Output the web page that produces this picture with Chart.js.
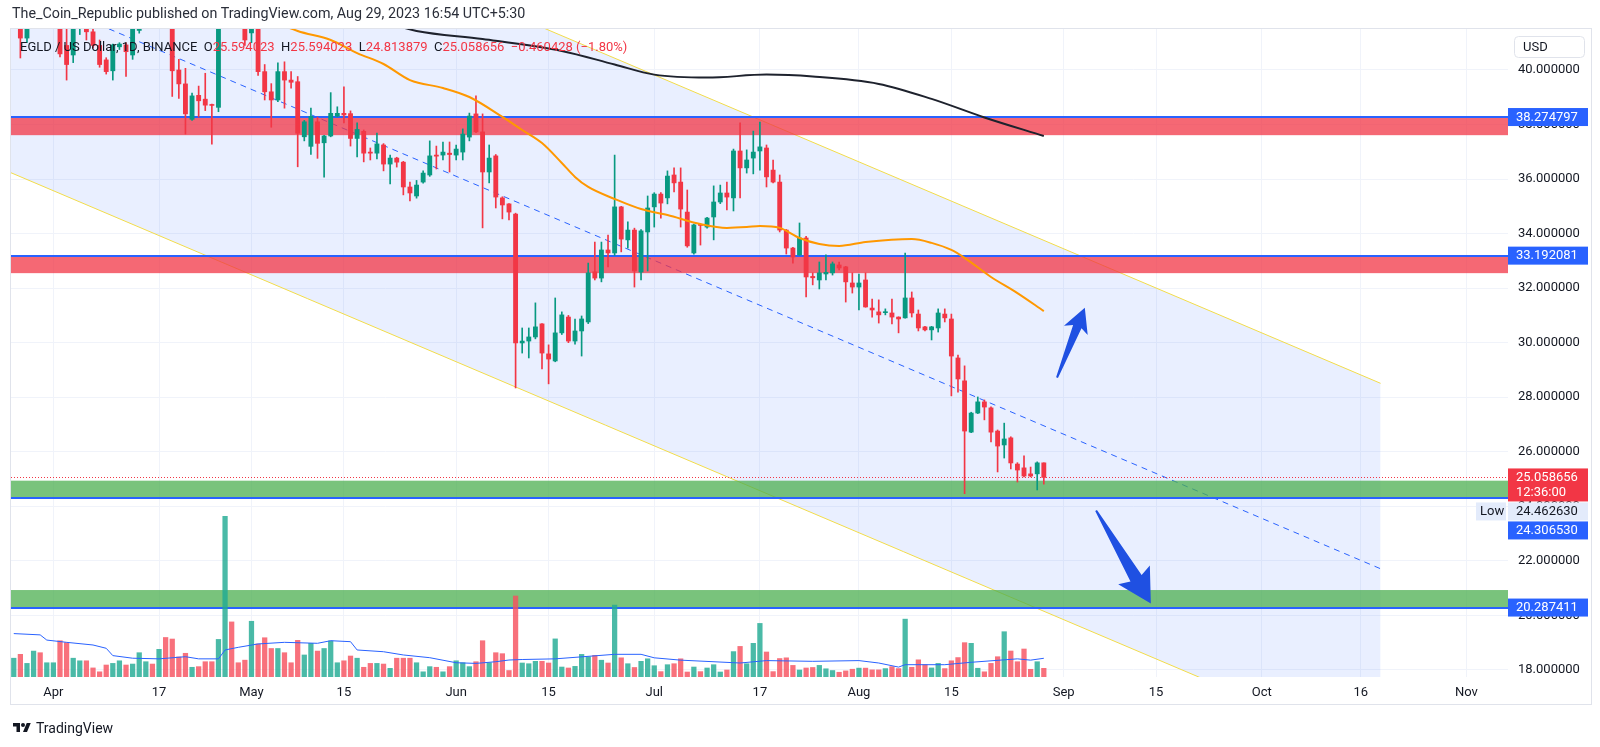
<!DOCTYPE html>
<html><head><meta charset="utf-8">
<script src="https://cdn.jsdelivr.net/npm/chart.js@4.4.0/dist/chart.umd.min.js"></script>
<style>
html,body{margin:0;padding:0;background:#fff;width:1600px;height:747px;overflow:hidden;}
#wrap{position:relative;width:1600px;height:747px;font-family:Roboto,"Liberation Sans",sans-serif;color:#131722;}
#c{position:absolute;left:0;top:0;}
.hdr{position:absolute;left:12px;top:4px;font-size:14.3px;line-height:18px;white-space:nowrap;color:#2a2e39;}
.leg{position:absolute;left:20px;top:38px;font-size:13px;line-height:18px;white-space:nowrap;color:#131722;}
.leg .r{color:#f23645}
.foot{position:absolute;left:12px;top:719px;font-size:14px;line-height:18px;white-space:nowrap;display:flex;align-items:center;gap:4px;color:#131722;}
</style></head>
<body><div id="wrap">
<canvas id="c" width="1600" height="747"></canvas>
<div class="hdr">The_Coin_Republic published on TradingView.com, Aug 29, 2023 16:54 UTC+5:30</div>
<div class="leg">EGLD / US Dollar, 1D, BINANCE&nbsp;&nbsp;O<span class="r">25.594023</span>&nbsp;&nbsp;H<span class="r">25.594023</span>&nbsp;&nbsp;L<span class="r">24.813879</span>&nbsp;&nbsp;C<span class="r">25.058656</span>&nbsp;&nbsp;<span class="r">−0.460428 (−1.80%)</span></div>
<div class="foot"><svg width="20" height="14" viewBox="0 0 36 28"><path d="M14 22H7V11H0V4h14v18zM28 22h-8l7.5-18h8L28 22z" fill="#131722"/><circle cx="20" cy="8" r="4" fill="#131722"/></svg><span>TradingView</span></div>
</div>
<script>
// ---------- DATA ----------
const startDate = '2023-03-26';   // first daily candle
const open = [
 42.0,42.5,41.17,42.1,42.8,42.3,42.9,
 43.2,40.9,40.55,41.6,41.9,41.4,40.9,40.37,39.97,40.85,
 40.92,40.55,41.45,41.9,42.9,42.4,43.0,42.3,40.0,39.49,
 38.19,39.07,38.93,38.72,38.63,41.8,42.8,42.2,41.8,41.36,
 41.5,39.94,39.2,38.9,39.94,39.63,39.57,37.55,37.2,38.1,
 37.33,37.58,38.31,38.41,38.4,37.49,37.75,36.99,36.95,37.25,
 36.55,36.77,36.62,35.71,35.38,35.89,36.15,36.88,36.88,36.95,
 36.88,36.99,37.54,38.39,37.73,36.26,36.85,35.31,35.09,34.72,
 29.99,30.06,30.21,30.69,29.59,29.33,30.36,30.94,30.06,30.43,
 30.76,32.6,32.37,33.4,33.29,34.98,33.77,34.13,32.59,34.06,
 34.98,35.45,35.31,36.15,35.89,34.79,33.29,34.34,34.24,34.61,
 35.16,35.49,35.31,37.03,36.41,36.77,37.03,37.14,36.33,35.89,
 34.13,33.47,33.22,33.84,32.43,32.3,32.52,32.56,32.85,32.78,
 32.19,32.04,32.3,31.27,31.13,31.1,31.09,30.94,30.91,31.64,
 31.05,30.58,30.47,30.54,31.05,30.87,29.44,28.6,26.72,27.42,
 27.83,27.61,26.76,26.25,26.51,25.55,25.41,25.19,25.19,25.594023];
const high = [
 42.9,42.7,42.4,43.2,43.3,43.4,43.5,
 43.3,41.5,41.9,42.3,42.1,41.6,41.1,40.45,40.95,41.0,
 41.0,41.8,42.2,43.2,43.4,43.5,43.1,42.4,40.39,40.06,
 39.15,39.41,39.88,38.75,42.3,43.5,43.2,42.6,41.9,41.8,
 41.7,40.2,39.5,40.26,40.3,39.94,39.76,38.15,38.6,38.27,
 37.6,39.17,38.65,39.38,38.5,38.06,37.8,37.14,37.69,37.3,
 36.88,36.8,36.65,35.89,35.95,36.3,37.4,37.21,37.36,37.36,
 37.25,37.84,38.42,39.05,38.39,37.25,36.9,35.35,35.1,34.75,
 30.54,30.54,31.46,30.7,29.92,31.64,31.13,31.0,30.87,30.98,
 32.92,33.69,33.69,33.95,36.88,35.0,34.43,34.2,34.15,35.38,
 35.5,35.5,36.3,36.41,36.41,35.6,34.35,34.35,34.6,35.75,
 35.78,35.89,37.1,38.06,37.07,37.76,38.09,37.25,36.7,36.15,
 34.15,33.5,34.39,33.9,32.56,32.96,33.22,32.96,32.96,32.8,
 32.56,32.52,32.56,31.6,31.57,31.24,31.6,30.95,33.29,31.86,
 31.2,30.6,30.6,31.24,31.24,31.05,29.55,29.15,27.45,28.01,
 27.9,27.65,26.8,27.05,26.55,25.6,25.85,25.44,25.63,25.594023];
const low = [
 41.7,40.44,41.0,41.9,41.8,42.0,42.6,
 40.48,39.63,40.27,41.3,41.1,40.8,40.1,39.85,39.63,40.75,
 39.76,40.39,41.35,41.7,42.1,42.2,41.8,39.03,38.96,37.65,
 38.15,38.27,38.51,37.28,38.47,41.6,41.8,41.55,40.9,41.0,
 39.8,38.9,37.9,38.84,38.6,39.33,36.45,37.4,36.9,36.76,
 36.07,37.55,38.28,38.06,37.21,36.81,36.63,36.7,36.74,36.3,
 35.82,36.44,35.42,35.2,35.3,35.85,36.1,36.37,36.7,36.26,
 36.7,36.7,37.4,37.7,34.21,35.86,34.94,34.54,34.5,28.34,
 29.62,29.44,30.14,29.04,28.49,29.3,30.3,30.0,29.95,29.51,
 30.7,32.3,32.23,32.78,33.2,33.33,33.47,32.04,32.3,32.63,
 34.24,34.57,35.09,35.53,34.24,33.5,33.25,33.58,34.2,33.77,
 35.1,34.87,34.83,35.31,36.22,36.19,36.33,35.71,35.86,34.06,
 33.25,32.92,33.2,31.68,32.12,31.97,32.3,32.48,32.67,31.49,
 31.82,31.2,31.3,30.94,30.72,31.02,30.69,30.36,30.9,30.94,
 30.43,30.43,30.1,30.39,30.76,28.05,28.19,24.46263,26.7,27.4,
 27.17,26.36,25.26,25.77,25.37,24.89,25.08,25.08,24.6,24.813879];
const close = [
 42.5,41.17,42.1,42.8,42.3,42.9,43.2,
 40.59,40.2,41.6,42.0,41.4,40.9,40.2,39.94,40.92,40.95,
 40.67,41.6,41.9,42.9,42.4,43.0,42.3,39.97,39.49,38.39,
 39.05,38.87,38.71,38.70,41.8,42.8,42.2,41.8,41.1,41.6,
 39.94,39.2,38.9,39.94,39.63,39.55,37.68,38.1,38.3,37.31,
 37.58,38.41,38.41,38.35,37.49,37.82,36.95,36.95,37.29,36.55,
 36.77,36.62,35.71,35.49,35.78,36.22,36.85,36.84,36.99,36.9,
 37.1,37.65,38.31,37.73,36.26,36.77,35.34,35.05,34.79,29.99,
 30.06,30.21,30.58,29.62,29.4,30.36,31.02,30.06,30.43,30.87,
 32.56,32.37,33.4,33.29,34.98,33.8,34.13,32.63,34.1,34.94,
 35.45,35.12,36.11,35.86,34.9,33.55,34.32,34.3,34.57,35.16,
 35.49,35.34,37.03,36.41,36.7,36.99,37.18,36.08,35.89,34.13,
 33.47,33.14,33.84,32.41,32.38,32.56,32.58,32.89,32.74,32.23,
 32.04,32.19,31.31,31.2,31.02,31.13,30.94,30.87,31.64,31.09,
 30.54,30.47,30.58,31.09,30.91,29.51,28.67,26.76,27.42,27.83,
 27.64,26.72,26.21,26.47,25.59,25.33,25.11,25.11,25.594023,25.058656];
const volume = [ // thousands EGLD (approx.)
 29,35,21,40,37.5,22,22,
 56,53,29,25,25,14,8,18.5,21,25,
 18.5,20,37.5,23.6,20,42.7,61,58.6,31,36.6,
 15,16,23.6,23.6,58,248,85,22,26,86,
 51,60.6,44,44,37.5,22,56.6,34,52,40,
 44,55.6,22,25,32.4,29,15,21,21,20,
 13.4,29,29,29,22,8,16,15,8,16,
 25,22,16,23.6,56,22,37.5,36,10,125,
 21.6,20.5,24.2,24.2,21.6,58.8,15.4,13.9,16.4,34.9,
 31.2,33.3,25.9,21.6,111,29.6,20.5,14.7,24.2,28.1,
 17.4,8.3,19,20.5,28.1,7.7,15.4,8.3,13.9,19,
 7.7,10.8,39.2,47.2,20.5,52,82.7,38.6,8.3,28.5,
 29.6,17.9,10.8,13.9,14.7,17.9,12.7,10,7.3,9.4,
 12,13.7,13.7,11,11,13,16,13,89.3,15,
 26.5,19,14,21,13,25,30,53,52,13.5,
 8,21,31.3,69.9,40.1,23.6,43.2,11.9,23.6,13.4];
// moving averages: [date, value]
const volMA = [['2023-03-26',67],['2023-03-30',65],['2023-03-31',57],['2023-04-03',53.5],['2023-04-07',49.4],['2023-04-09',44.3],['2023-04-10',33],['2023-04-13',29],['2023-04-17',28],['2023-04-21',31.3],['2023-04-23',28],['2023-04-26',28],['2023-04-27',41.7],['2023-04-29',45.8],['2023-05-02',51],['2023-05-06',53.5],['2023-05-11',52],['2023-05-13',56],['2023-05-16',54.5],['2023-05-17',41.7],['2023-05-21',39],['2023-05-24',34],['2023-05-28',29.8],['2023-06-01',22],['2023-06-04',21],['2023-06-07',23.6],['2023-06-09',26.2],['2023-06-11',27],['2023-06-16',28],['2023-06-25',35],['2023-06-29',35],['2023-07-01',29.6],['2023-07-05',26],['2023-07-14',21.6],['2023-07-18',25.3],['2023-07-25',24.2],['2023-08-01',25.3],['2023-08-04',21.6],['2023-08-07',15.3],['2023-08-08',19],['2023-08-14',19],['2023-08-18',22.7],['2023-08-25',28],['2023-08-27',26],['2023-08-29',28.9]];
const maOrange = [['2023-05-01',42.13],['2023-05-08',41.43],['2023-05-13',41.10],['2023-05-17',40.62],['2023-05-21',40.22],['2023-05-25',39.63],['2023-05-30',39.34],['2023-06-03',39.01],['2023-06-08',38.28],['2023-06-11',37.80],['2023-06-14',37.32],['2023-06-17',36.59],['2023-06-19',36.08],['2023-06-21',35.71],['2023-06-25',35.27],['2023-06-29',34.90],['2023-07-03',34.68],['2023-07-08',34.35],['2023-07-12',34.21],['2023-07-15',34.24],['2023-07-17',34.28],['2023-07-20',34.21],['2023-07-23',33.84],['2023-07-26',33.62],['2023-07-29',33.55],['2023-08-02',33.69],['2023-08-09',33.80],['2023-08-12',33.66],['2023-08-15',33.40],['2023-08-17',33.11],['2023-08-21',32.41],['2023-08-25',31.82],['2023-08-29',31.16]];
const maBlack = [['2023-05-22',41.7],['2023-05-26',41.43],['2023-06-05',41.14],['2023-06-17',40.70],['2023-06-25',40.2],['2023-07-01',39.83],['2023-07-09',39.72],['2023-07-18',39.83],['2023-07-25',39.76],['2023-08-04',39.49],['2023-08-12',38.94],['2023-08-20',38.26],['2023-08-29',37.58]];
// drawings
const channelUpper = [['2023-03-22',50.20],['2023-10-19',28.51]];
const channelLower = [['2023-03-22',36.60],['2023-10-19',14.91]];
const channelMid   = [['2023-03-22',43.40],['2023-10-19',21.71]];
const levelLines = [38.274797, 33.192081, 24.306530, 20.287411];
const redZones = [[37.61, 38.274797], [32.55, 33.192081]];
const greenZones = [[24.306530, 24.94], [20.287411, 20.93]];
const lastPrice = 25.058656, lastCountdown = '12:36:00', lowPrice = 24.462630;
const arrows = [[['2023-08-31T00:00',28.72],['2023-09-04T05:00',31.28]], [['2023-09-05T22:00',23.85],['2023-09-14T05:00',20.44]]];
// axes
const xTickDates = ['2023-04-01','2023-04-17','2023-05-01','2023-05-15','2023-06-01','2023-06-15','2023-07-01','2023-07-17','2023-08-01','2023-08-15','2023-09-01','2023-09-15','2023-10-01','2023-10-16','2023-11-01'];
const xTickLabels = ['Apr','17','May','15','Jun','15','Jul','17','Aug','15','Sep','15','Oct','16','Nov'];
const yTicks = [18,20,22,24,26,28,30,32,34,36,38,40];

// ---------- helpers ----------
const DAY = 86400000;
const dayOf = s => (Date.parse((s.length > 10 ? s : s + 'T00:00') + ':00Z') - Date.parse('2023-04-01T00:00:00Z')) / DAY;
const d0 = dayOf(startDate);
const xs = open.map((_, i) => d0 + i);
const UP = '#089981', DOWN = '#f23645';
const isUp = i => close[i] >= open[i];
const candleCol = xs.map((_, i) => isUp(i) ? UP : DOWN);
const volCol = xs.map((_, i) => isUp(i) ? 'rgba(34,171,148,0.82)' : 'rgba(247,82,95,0.82)');
const pts = arr => arr.map(([d, v]) => ({x: dayOf(d), y: v}));

const FONT = 'Roboto, "Liberation Sans", sans-serif';
Chart.defaults.font.family = FONT;
Chart.defaults.font.size = 13;
Chart.defaults.color = '#131722';

const overlay = {
  id: 'overlay',
  beforeDatasetDraw(chart, args) {
    if (chart.data.datasets[args.index].label !== 'wicks') return;
    const {ctx, chartArea: a, scales: {y}} = chart;
    ctx.save();
    ctx.beginPath(); ctx.rect(a.left, a.top, a.right - a.left, a.bottom - a.top); ctx.clip();
    ctx.fillStyle = 'rgba(242,54,69,0.75)';
    for (const [lo, hi] of redZones) { const t = y.getPixelForValue(hi), b = y.getPixelForValue(lo); ctx.fillRect(a.left, t, a.right - a.left, b - t); }
    ctx.fillStyle = 'rgba(76,175,80,0.75)';
    for (const [lo, hi] of greenZones) { const t = y.getPixelForValue(hi), b = y.getPixelForValue(lo); ctx.fillRect(a.left, t, a.right - a.left, b - t); }
    ctx.strokeStyle = '#2962ff'; ctx.lineWidth = 2;
    for (const v of levelLines) { const p = Math.round(y.getPixelForValue(v)); ctx.beginPath(); ctx.moveTo(a.left, p); ctx.lineTo(a.right, p); ctx.stroke(); }
    ctx.strokeStyle = '#f23645'; ctx.lineWidth = 1; ctx.setLineDash([1, 2]);
    const lp = Math.round(y.getPixelForValue(lastPrice)) + 0.5;
    ctx.beginPath(); ctx.moveTo(a.left, lp); ctx.lineTo(a.right, lp); ctx.stroke();
    ctx.restore();
  },
  afterDatasetsDraw(chart) {
    const {ctx, chartArea: a, scales: {x, y}} = chart;
    ctx.save();
    ctx.beginPath(); ctx.rect(a.left, a.top, a.right - a.left, a.bottom - a.top); ctx.clip();
    ctx.fillStyle = '#1f50e2';
    for (const [[d1, v1], [d2, v2]] of arrows) {
      const x1 = x.getPixelForValue(dayOf(d1)), y1 = y.getPixelForValue(v1);
      const x2 = x.getPixelForValue(dayOf(d2)), y2 = y.getPixelForValue(v2);
      const dx = x2 - x1, dy = y2 - y1, L = Math.hypot(dx, dy);
      const ux = dx / L, uy = dy / L, nx = -uy, ny = ux;
      const hl = 0.27 * L, hw = 0.17 * L, sw = 0.06 * L, tw = 1;
      const bx = x2 - ux * hl, by = y2 - uy * hl;
      const wx = x2 - ux * (hl + 4), wy = y2 - uy * (hl + 4);
      ctx.beginPath();
      ctx.moveTo(x1 + nx * tw, y1 + ny * tw);
      ctx.lineTo(bx + nx * sw, by + ny * sw);
      ctx.lineTo(wx + nx * hw, wy + ny * hw);
      ctx.lineTo(x2, y2);
      ctx.lineTo(wx - nx * hw, wy - ny * hw);
      ctx.lineTo(bx - nx * sw, by - ny * sw);
      ctx.lineTo(x1 - nx * tw, y1 - ny * tw);
      ctx.closePath(); ctx.fill();
    }
    ctx.restore();
  },
  afterDraw(chart) {
    const {ctx, chartArea: a, scales: {y}} = chart;
    const X0 = a.right, W = 80, H = 18;
    ctx.save();
    ctx.font = '13px ' + FONT; ctx.textBaseline = 'middle'; ctx.textAlign = 'left';
    const box = (cy, h, bg, lines, fg) => {
      const top = cy - 9;
      ctx.fillStyle = bg; ctx.fillRect(X0, top, W, h);
      ctx.fillStyle = fg;
      lines.forEach((t, k) => ctx.fillText(t, X0 + 8, top + 9.5 + k * 15));
      return top + h;
    };
    box(y.getPixelForValue(levelLines[0]), H, '#2962ff', [levelLines[0].toFixed(6)], '#fff');
    box(y.getPixelForValue(levelLines[1]), H, '#2962ff', [levelLines[1].toFixed(6)], '#fff');
    box(y.getPixelForValue(levelLines[3]), H, '#2962ff', [levelLines[3].toFixed(6)], '#fff');
    let bottom = box(y.getPixelForValue(lastPrice), 33, '#f23645', [lastPrice.toFixed(6), lastCountdown], '#fff');
    const lowY = Math.max(y.getPixelForValue(lowPrice), bottom + 1 + 9);
    ctx.fillStyle = '#e3ebfb'; ctx.fillRect(X0 - 32, lowY - 9, 30, H);
    ctx.fillStyle = '#131722'; ctx.fillText('Low', X0 - 28, lowY + 0.5);
    bottom = box(lowY, H, '#e3ebfb', [lowPrice.toFixed(6)], '#131722');
    box(Math.max(y.getPixelForValue(levelLines[2]), bottom + 1 + 9), H, '#2962ff', [levelLines[2].toFixed(6)], '#fff');
    // currency box
    ctx.fillStyle = '#fff'; ctx.strokeStyle = '#e0e3eb'; ctx.lineWidth = 1;
    ctx.beginPath(); ctx.roundRect(1514.5, 36.5, 70, 21, 4); ctx.fill(); ctx.stroke();
    ctx.fillStyle = '#131722'; ctx.fillText('USD', 1523, 47.5);
    // frame
    ctx.strokeStyle = '#e0e3eb';
    ctx.strokeRect(10.5, 28.5, 1581, 676);
    ctx.restore();
  }
};

const xMin = -6.42, xMax = 220.3, yMin = 17.741, yMax = 41.503;

new Chart(document.getElementById('c'), {
  type: 'bar',
  data: {
    datasets: [
      {type: 'line', label: 'chUpper', data: pts(channelUpper), borderColor: '#f2dc4a', borderWidth: 1, pointRadius: 0, fill: '+1', backgroundColor: 'rgba(41,98,255,0.1)', order: 20},
      {type: 'line', label: 'chLower', data: pts(channelLower), borderColor: '#f2dc4a', borderWidth: 1, pointRadius: 0, fill: false, order: 19},
      {type: 'line', label: 'chMid', data: pts(channelMid), borderColor: '#2962ff', borderWidth: 1, borderDash: [6, 5], pointRadius: 0, fill: false, order: 18},
      {label: 'wicks', data: xs.map((x, i) => ({x, y: [low[i], high[i]]})), backgroundColor: candleCol, barThickness: 1, grouped: false, minBarLength: 1, order: 10},
      {label: 'bodies', data: xs.map((x, i) => ({x, y: [Math.min(open[i], close[i]), Math.max(open[i], close[i])]})), backgroundColor: candleCol, barThickness: 4.2, grouped: false, minBarLength: 1, order: 9},
      {label: 'volume', yAxisID: 'yv', data: xs.map((x, i) => ({x, y: volume[i]})), backgroundColor: volCol, barThickness: 4.6, grouped: false, order: 8},
      {type: 'line', label: 'volMA', yAxisID: 'yv', data: pts(volMA), borderColor: '#2962ff', borderWidth: 1, pointRadius: 0, fill: false, order: 7},
      {type: 'line', label: 'ma50', data: pts(maOrange), borderColor: '#ff9800', borderWidth: 2, pointRadius: 0, fill: false, cubicInterpolationMode: 'monotone', order: 6},
      {type: 'line', label: 'ma200', data: pts(maBlack), borderColor: '#1e222d', borderWidth: 2, pointRadius: 0, fill: false, cubicInterpolationMode: 'monotone', order: 5}
    ]
  },
  options: {
    responsive: false, animation: false, devicePixelRatio: 1,
    layout: {padding: {left: 11, top: 29, right: 0, bottom: 43}},
    plugins: {legend: {display: false}, tooltip: {enabled: false}},
    events: [],
    scales: {
      x: {
        type: 'linear', min: xMin, max: xMax, offset: false,
        grid: {color: '#f0f3fa', drawTicks: false, offset: false},
        border: {display: false},
        afterBuildTicks: s => { s.ticks = xTickDates.map(d => ({value: dayOf(d)})); },
        afterFit: s => { s.height = 27; },
        ticks: {autoSkip: false, maxRotation: 0, padding: 8, color: '#131722', font: {size: 13},
          callback: (v, i) => xTickLabels[i]}
      },
      y: {
        type: 'linear', position: 'right', min: yMin, max: yMax,
        grid: {color: '#f0f3fa', drawTicks: false},
        border: {display: false},
        afterBuildTicks: s => { s.ticks = yTicks.map(v => ({value: v})); },
        afterFit: s => { s.width = 92; },
        ticks: {autoSkip: false, padding: 10, color: '#131722', font: {size: 13}, crossAlign: 'near',
          callback: v => Number(v).toFixed(6)}
      },
      yv: {type: 'linear', display: false, min: 0, max: 1000}
    }
  },
  plugins: [overlay]
});
</script>
</body></html>
